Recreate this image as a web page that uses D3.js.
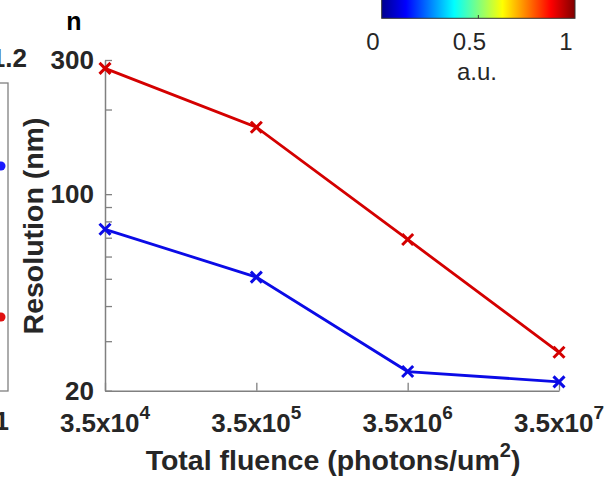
<!DOCTYPE html>
<html>
<head>
<meta charset="utf-8">
<script src="https://cdn.jsdelivr.net/npm/d3@7"></script>
<style>
  html, body { margin: 0; padding: 0; background: #fff; }
  svg { display: block; font-family: "Liberation Sans", Arial, Helvetica, sans-serif; }
</style>
</head>
<body>
<svg id="chart" width="613" height="480"></svg>
<script>
// ---- data ----
const fluence = [3.5e4, 3.5e5, 3.5e6, 3.5e7];
const fluenceExponents = [4, 5, 6, 7];
const redResolution = [280, 173, 69, 27.4];
const blueResolution = [75, 50.7, 23.4, 21.5];
const yTickValues = [20, 30, 40, 50, 60, 70, 80, 90, 100, 200, 300];
const yTickLabels = [20, 100, 300];
const colorbarTicks = [0, 0.5, 1];
const jetStops = ["#00008f", "#0000ff", "#00ffff", "#ffff00", "#ff0000", "#800000"];
const jetOffsets = [0, 0.125, 0.375, 0.625, 0.875, 1];

const svg = d3.select("#chart");
const axisColor = "#808080";
const textColor = "#262626";

// ---- scales ----
const x = d3.scaleLog().domain([3.5e4, 3.5e7]).range([105, 559]);
const y = d3.scaleLog().domain([20, 300]).range([390.7, 60]);

// ---- y axis ----
const yAxis = d3.axisLeft(y)
  .tickValues(yTickValues)
  .tickSizeInner(-7)
  .tickSizeOuter(0)
  .tickPadding(11)
  .tickFormat(d => yTickLabels.includes(d) ? String(d) : "");
const gy = svg.append("g").attr("transform", "translate(105,0)").call(yAxis);
gy.select(".domain").attr("stroke", axisColor).attr("stroke-width", 1.5);
gy.selectAll(".tick line").attr("stroke", axisColor).attr("stroke-width", 1.3);
gy.selectAll(".tick text")
  .attr("fill", textColor)
  .attr("font-size", 26)
  .attr("font-weight", "bold")
  .attr("font-family", "Liberation Sans, Arial, sans-serif");

// ---- x axis ----
const xAxis = d3.axisBottom(x)
  .tickValues(fluence)
  .tickSizeInner(-8)
  .tickSizeOuter(0)
  .tickFormat("");
const gx = svg.append("g").attr("transform", "translate(0,390.7)").call(xAxis);
gx.select(".domain").attr("stroke", axisColor).attr("stroke-width", 1.5);
gx.selectAll(".tick line").attr("stroke", axisColor).attr("stroke-width", 1.3);

const xl = svg.append("g");
fluence.forEach((f, i) => {
  const t = xl.append("text")
    .attr("x", x(f))
    .attr("y", 432)
    .attr("text-anchor", "middle")
    .attr("fill", textColor)
    .attr("font-size", 26)
    .attr("font-weight", "bold");
  t.append("tspan").text("3.5x10");
  t.append("tspan").attr("dy", -13).attr("font-size", 19).text(fluenceExponents[i]);
});

// ---- axis titles ----
const xt = svg.append("text")
  .attr("x", 333).attr("y", 470)
  .attr("text-anchor", "middle")
  .attr("fill", textColor)
  .attr("font-size", 28.5)
  .attr("font-weight", "bold");
xt.append("tspan").text("Total fluence (photons/um");
xt.append("tspan").attr("dy", -13).attr("font-size", 20).text("2");
xt.append("tspan").attr("dy", 13).text(")");

svg.append("text")
  .attr("transform", "translate(43,226) rotate(-90)")
  .attr("text-anchor", "middle")
  .attr("fill", textColor)
  .attr("font-size", 28.5)
  .attr("font-weight", "bold")
  .text("Resolution (nm)");

// ---- panel label ----
svg.append("text")
  .attr("x", 74).attr("y", 30)
  .attr("text-anchor", "middle")
  .attr("fill", "#000")
  .attr("font-size", 25)
  .attr("font-weight", "bold")
  .text("n");

// ---- series ----
const line = d3.line().x(d => x(d[0])).y(d => y(d[1]));
const series = [
  { values: redResolution, color: "#d40000" },
  { values: blueResolution, color: "#0b0be6" }
];
series.forEach(s => {
  const pts = fluence.map((f, i) => [f, s.values[i]]);
  svg.append("path")
    .datum(pts)
    .attr("d", line)
    .attr("fill", "none")
    .attr("stroke", s.color)
    .attr("stroke-width", 2.8);
  const m = 5.5;
  svg.append("g").selectAll("path.mk")
    .data(pts).join("path")
    .attr("d", d => {
      const cx = x(d[0]), cy = y(d[1]);
      return `M${cx - m},${cy - m}L${cx + m},${cy + m}M${cx - m},${cy + m}L${cx + m},${cy - m}`;
    })
    .attr("stroke", s.color)
    .attr("stroke-width", 3)
    .attr("fill", "none");
});

// ---- colorbar (top right, partially cropped) ----
const defs = svg.append("defs");
const grad = defs.append("linearGradient").attr("id", "jet")
  .attr("x1", "0%").attr("x2", "100%").attr("y1", "0%").attr("y2", "0%");
jetStops.forEach((c, i) => grad.append("stop").attr("offset", jetOffsets[i]).attr("stop-color", c));
const cb = d3.scaleLinear().domain([0, 1]).range([381.7, 575]);
svg.append("rect")
  .attr("x", cb(0)).attr("y", -10)
  .attr("width", cb(1) - cb(0)).attr("height", 28.3)
  .attr("fill", "url(#jet)")
  .attr("stroke", "#333").attr("stroke-width", 1);
svg.append("line")
  .attr("x1", cb(0.5)).attr("x2", cb(0.5))
  .attr("y1", 18.3).attr("y2", 15)
  .attr("stroke", "#333").attr("stroke-width", 1);
const cbLabelX = d3.scaleLinear().domain([0, 1]).range([373, 566]);
svg.append("g").selectAll("text")
  .data(colorbarTicks).join("text")
  .attr("x", d => cbLabelX(d))
  .attr("y", 50)
  .attr("text-anchor", "middle")
  .attr("fill", textColor)
  .attr("font-size", 24)
  .text(d => String(d));
svg.append("text")
  .attr("x", 477).attr("y", 80)
  .attr("text-anchor", "middle")
  .attr("fill", textColor)
  .attr("font-size", 24)
  .text("a.u.");

// ---- neighbouring panel remnants (left edge) ----
svg.append("rect")
  .attr("x", -60).attr("y", 83)
  .attr("width", 68).attr("height", 308)
  .attr("fill", "none")
  .attr("stroke", axisColor).attr("stroke-width", 1.3);
svg.append("circle").attr("cx", 1).attr("cy", 166).attr("r", 4.5).attr("fill", "#1a1aff");
svg.append("circle").attr("cx", 1).attr("cy", 317).attr("r", 4.5).attr("fill", "#e01010");
svg.append("text")
  .attr("x", 27).attr("y", 67)
  .attr("text-anchor", "end")
  .attr("fill", textColor)
  .attr("font-size", 26)
  .attr("font-weight", "bold")
  .text("1.2");
svg.append("text")
  .attr("x", 9).attr("y", 430)
  .attr("text-anchor", "end")
  .attr("fill", textColor)
  .attr("font-size", 26)
  .attr("font-weight", "bold")
  .text("1");
</script>
</body>
</html>
